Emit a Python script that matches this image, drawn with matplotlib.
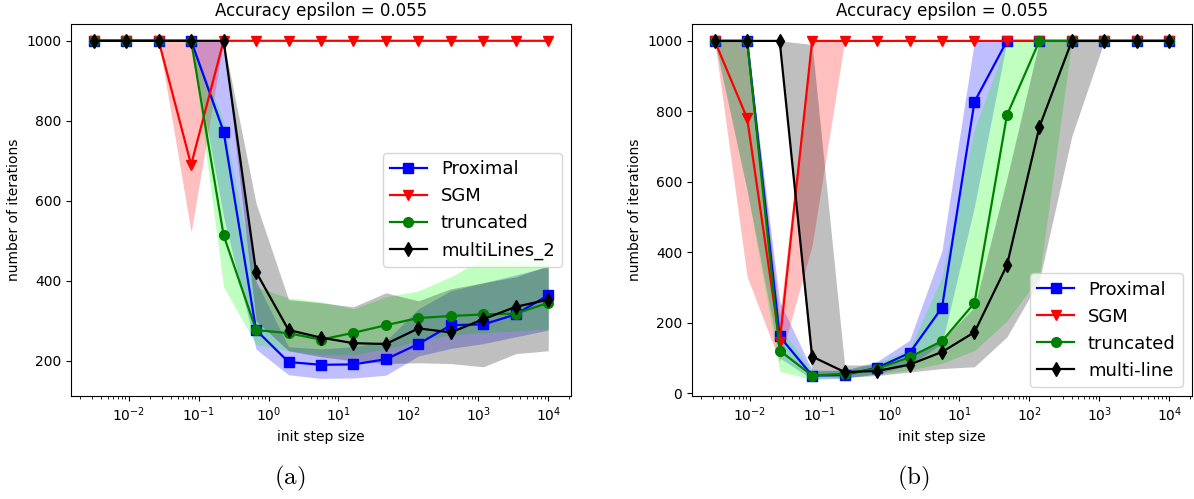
import matplotlib
matplotlib.use("Agg")
import matplotlib.pyplot as plt
from matplotlib.ticker import NullFormatter

# step sizes (x grid)
step_sizes = [0.003162, 0.009211, 0.02683, 0.07814, 0.2276, 0.6629, 1.931,
              5.623, 16.38, 47.71, 138.9, 404.7, 1179, 3434, 10000]
xticks = [1e-2, 1e-1, 1e0, 1e1, 1e2, 1e3, 1e4]

# ---------------- panel (a) ----------------
a_prox_mean = [1000, 1000, 1000, 1000, 773, 277, 197, 190, 191, 204, 242, 289, 291, 316, 364]
a_prox_low  = [1000, 1000, 1000, 1000, 560, 229, 165, 156, 157, 164, 212, 231, 243, 260, 277]
a_prox_up   = [1000, 1000, 1000, 1000, 1000, 400, 235, 230, 235, 250, 330, 375, 395, 415, 435]

a_sgm_mean = [1000, 1000, 1000, 690, 1000, 1000, 1000, 1000, 1000, 1000, 1000, 1000, 1000, 1000, 1000]
a_sgm_low  = [1000, 1000, 1000, 522, 1000, 1000, 1000, 1000, 1000, 1000, 1000, 1000, 1000, 1000, 1000]
a_sgm_up   = [1000] * 15

a_trunc_mean = [1000, 1000, 1000, 1000, 514, 277, 269, 253, 270, 289, 307, 312, 316, 318, 345]
a_trunc_low  = [1000, 1000, 1000, 1000, 385, 240, 225, 215, 215, 230, 250, 265, 270, 275, 280]
a_trunc_up   = [1000, 1000, 1000, 1000, 800, 385, 357, 348, 330, 360, 375, 410, 455, 450, 455]

a_multi_mean = [1000, 1000, 1000, 1000, 1000, 422, 277, 258, 244, 242, 281, 271, 304, 335, 353]
a_multi_low  = [1000, 1000, 1000, 1000, 1000, 300, 225, 210, 200, 193, 195, 193, 185, 218, 225]
a_multi_up   = [1000, 1000, 1000, 1000, 1000, 594, 353, 345, 335, 370, 350, 380, 395, 410, 438]

# ---------------- panel (b) ----------------
b_prox_mean = [1000, 1000, 161, 50, 52, 72, 114, 243, 827, 1000, 1000, 1000, 1000, 1000, 1000]
b_prox_low  = [1000, 575, 100, 40, 42, 55, 80, 140, 530, 1000, 1000, 1000, 1000, 1000, 1000]
b_prox_up   = [1000, 1000, 260, 65, 65, 90, 150, 405, 1000, 1000, 1000, 1000, 1000, 1000, 1000]

b_sgm_mean = [1000, 780, 145, 1000, 1000, 1000, 1000, 1000, 1000, 1000, 1000, 1000, 1000, 1000, 1000]
b_sgm_low  = [1000, 330, 90, 420, 1000, 1000, 1000, 1000, 1000, 1000, 1000, 1000, 1000, 1000, 1000]
b_sgm_up   = [1000, 1000, 220, 1000, 1000, 1000, 1000, 1000, 1000, 1000, 1000, 1000, 1000, 1000, 1000]

b_trunc_mean = [1000, 1000, 121, 50, 55, 70, 102, 148, 256, 789, 1000, 1000, 1000, 1000, 1000]
b_trunc_low  = [1000, 575, 62, 40, 45, 55, 65, 85, 121, 205, 330, 1000, 1000, 1000, 1000]
b_trunc_up   = [1000, 1000, 190, 62, 65, 85, 125, 330, 750, 1000, 1000, 1000, 1000, 1000, 1000]

b_multi_mean = [1000, 1000, 1000, 104, 60, 63, 81, 117, 173, 363, 756, 1000, 1000, 1000, 1000]
b_multi_low  = [1000, 1000, 1000, 50, 45, 50, 60, 70, 75, 160, 320, 730, 1000, 1000, 1000]
b_multi_up   = [1000, 1000, 1000, 990, 80, 80, 100, 150, 245, 610, 1000, 1000, 1000, 1000, 1000]

title = "Accuracy epsilon = 0.055"
xlabel = "init step size"
ylabel = "number of iterations"
labels_a = ["Proximal", "SGM", "truncated", "multiLines_2"]
labels_b = ["Proximal", "SGM", "truncated", "multi-line"]
yticks_a = [200, 400, 600, 800, 1000]
yticks_b = [0, 200, 400, 600, 800, 1000]

line_colors = ["blue", "red", "green", "black"]
fill_colors = ["blue", "red", "#00ff00", "black"]
markers = ["s", "v", "o", "d"]

plt.rcParams['font.family'] = ['DejaVu Sans']
plt.rcParams['mathtext.fontset'] = 'cm'

fig = plt.figure(figsize=(11.94, 4.99), dpi=100)
ax_a = fig.add_axes([71/1194, 1-396/499, 500/1194, 372/499])
ax_b = fig.add_axes([692/1194, 1-396/499, 500/1194, 372/499])


def draw(ax, series, labels, yticks, ylim, legend_loc):
    for (mean, low, up), lab, lc, fc, mk in zip(series, labels, line_colors, fill_colors, markers):
        ax.plot(step_sizes, mean, color=lc, marker=mk, markersize=7, linewidth=1.6, label=lab)
        ax.fill_between(step_sizes, low, up, color=fc, alpha=0.25, linewidth=0)
    ax.set_xscale("log")
    ax.set_xlim(10 ** -2.825, 10 ** 4.325)
    ax.set_xticks(xticks)
    ax.xaxis.set_minor_formatter(NullFormatter())
    ax.set_ylim(*ylim)
    ax.set_yticks(yticks)
    ax.set_title(title, fontsize=12)
    ax.set_xlabel(xlabel, fontsize=10)
    ax.set_ylabel(ylabel, fontsize=10)
    ax.tick_params(labelsize=10)
    ax.legend(loc=legend_loc, fontsize=13)


draw(ax_a,
     [(a_prox_mean, a_prox_low, a_prox_up), (a_sgm_mean, a_sgm_low, a_sgm_up),
      (a_trunc_mean, a_trunc_low, a_trunc_up), (a_multi_mean, a_multi_low, a_multi_up)],
     labels_a, yticks_a, (112, 1042), "center right")
draw(ax_b,
     [(b_prox_mean, b_prox_low, b_prox_up), (b_sgm_mean, b_sgm_low, b_sgm_up),
      (b_trunc_mean, b_trunc_low, b_trunc_up), (b_multi_mean, b_multi_low, b_multi_up)],
     labels_b, yticks_b, (-8, 1048), "lower right")

fig.text(290/1194, 1-478/499, r"$(\mathrm{a})$", ha="center", va="center", fontsize=18)
fig.text(913/1194, 1-478/499, r"$(\mathrm{b})$", ha="center", va="center", fontsize=18)

fig.savefig("out.png", dpi=100)
